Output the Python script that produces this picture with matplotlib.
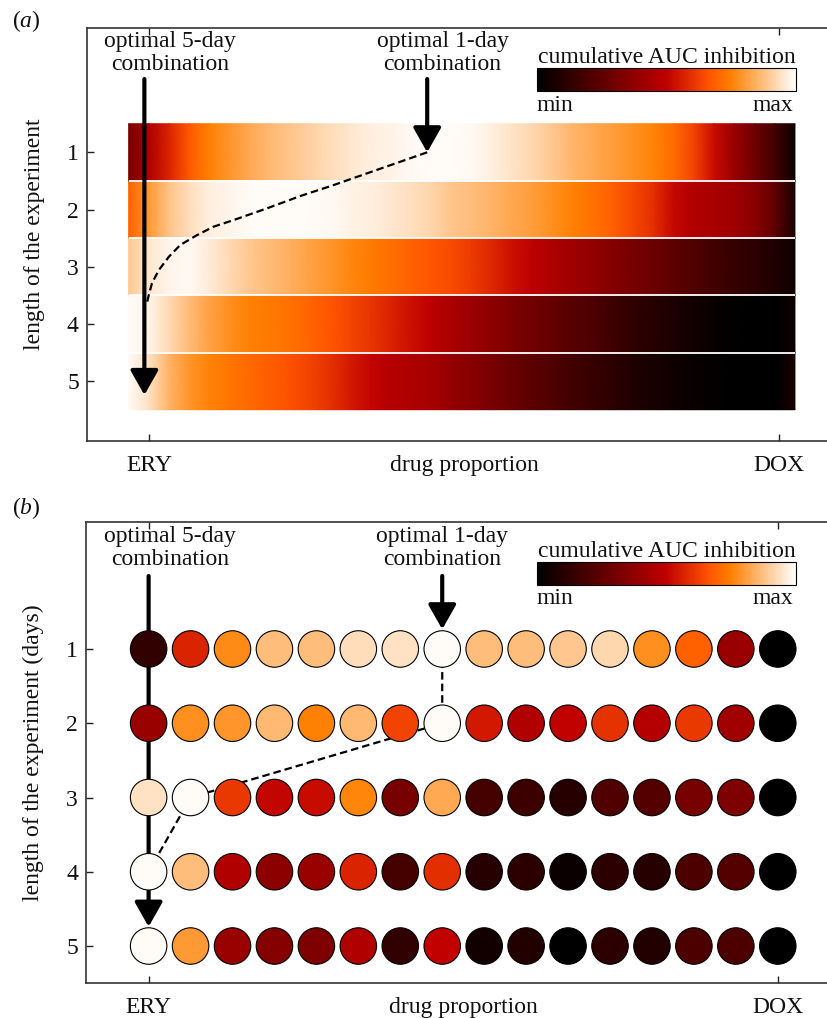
import numpy as np
import matplotlib
matplotlib.use('Agg')
import matplotlib.pyplot as plt
from matplotlib import cm
from matplotlib.colors import Normalize

plt.rcParams['font.family'] = ['Liberation Serif', 'DejaVu Serif']
plt.rcParams['mathtext.fontset'] = 'custom'
plt.rcParams['mathtext.rm'] = 'Liberation Serif'
plt.rcParams['mathtext.it'] = 'Liberation Serif:italic'
FS = 17
CMAP = 'gist_heat'

# ---------------- data ----------------
days = [1, 2, 3, 4, 5]
x_tick_pos = [0, 1]
x_tick_labels = ['ERY', 'DOX']

# panel (a): continuous inhibition profile along the drug-proportion axis
heat_pos = np.linspace(-0.033, 1.026, 34)
heat_day1 = [0.31, 0.45, 0.57, 0.67, 0.75, 0.79, 0.83, 0.86, 0.885, 0.91, 0.93, 0.95,
             0.965, 0.975, 0.985, 0.99, 0.99, 0.985, 0.965, 0.945, 0.92, 0.89, 0.855,
             0.83, 0.805, 0.785, 0.755, 0.71, 0.63, 0.52, 0.40, 0.29, 0.17, 0.04]
heat_day2 = [0.69, 0.80, 0.88, 0.93, 0.965, 0.98, 0.99, 0.99, 0.99, 0.99, 0.985, 0.975,
             0.965, 0.95, 0.935, 0.915, 0.885, 0.868, 0.85, 0.828, 0.805, 0.78, 0.752,
             0.72, 0.685, 0.64, 0.59, 0.515, 0.46, 0.44, 0.415, 0.36, 0.25, 0.07]
heat_day3 = [0.89, 0.95, 0.98, 0.985, 0.96, 0.925, 0.89, 0.865, 0.84, 0.815, 0.79, 0.765,
             0.74, 0.715, 0.69, 0.665, 0.645, 0.615, 0.575, 0.535, 0.49, 0.455, 0.415,
             0.38, 0.345, 0.31, 0.28, 0.245, 0.21, 0.175, 0.145, 0.115, 0.085, 0.035]
heat_day4 = [0.99, 0.98, 0.925, 0.865, 0.815, 0.78, 0.752, 0.735, 0.72, 0.695, 0.665, 0.635,
             0.605, 0.57, 0.53, 0.49, 0.445, 0.41, 0.37, 0.33, 0.295, 0.265, 0.23,
             0.20, 0.165, 0.13, 0.10, 0.075, 0.05, 0.025, 0.01, 0.0, 0.0, 0.04]
heat_day5 = [0.99, 0.94, 0.85, 0.79, 0.755, 0.73, 0.705, 0.68, 0.66, 0.63, 0.595, 0.55,
             0.51, 0.475, 0.455, 0.43, 0.39, 0.355, 0.315, 0.275, 0.24, 0.21, 0.175,
             0.145, 0.115, 0.085, 0.065, 0.045, 0.025, 0.01, 0.0, 0.0, 0.0, 0.07]
heat_rows = [heat_day1, heat_day2, heat_day3, heat_day4, heat_day5]

# optimal-combination path in panel (a)
path_a_p = [0.4415, 0.399, 0.346, 0.293, 0.240, 0.187, 0.134, 0.102, 0.076, 0.049,
            0.031, 0.015, 0.004, -0.001, -0.004]
path_a_day = [1.0, 1.164, 1.367, 1.572, 1.764, 1.979, 2.184, 2.30, 2.446, 2.62,
              2.825, 3.058, 3.29, 3.495, 3.64]

# panel (b): 16 discrete drug proportions
n_props = 16
dot_day1 = [0.13, 0.57, 0.77, 0.87, 0.87, 0.93, 0.94, 0.99, 0.87, 0.87, 0.89, 0.92, 0.78, 0.69, 0.40, 0.0]
dot_day2 = [0.40, 0.78, 0.79, 0.86, 0.75, 0.86, 0.63, 0.99, 0.55, 0.46, 0.50, 0.60, 0.47, 0.61, 0.42, 0.0]
dot_day3 = [0.94, 0.99, 0.61, 0.51, 0.52, 0.76, 0.31, 0.83, 0.18, 0.16, 0.10, 0.21, 0.22, 0.31, 0.33, 0.0]
dot_day4 = [0.99, 0.87, 0.46, 0.37, 0.40, 0.57, 0.18, 0.59, 0.10, 0.12, 0.03, 0.12, 0.10, 0.20, 0.22, 0.0]
dot_day5 = [0.99, 0.80, 0.40, 0.35, 0.33, 0.46, 0.13, 0.50, 0.05, 0.09, 0.0, 0.12, 0.09, 0.20, 0.20, 0.0]
dot_rows = [dot_day1, dot_day2, dot_day3, dot_day4, dot_day5]

opt_col = [7, 7, 1, 0]
opt_day = [1, 2, 3, 4]

# ---------------- figure ----------------
W, H = 828, 1018
fig = plt.figure(figsize=(W / 100, H / 100), dpi=100)
DASH = (0, (3.4, 1.8))


def fx(px):
    return px / W


def fy(py):
    return (H - py) / H


def style_axes(ax, ylabel):
    ax.set_xlim(-0.1, 1.1)
    ax.set_xticks(x_tick_pos)
    ax.set_xticklabels(x_tick_labels)
    ax.set_yticks(days)
    ax.tick_params(axis='x', direction='in', top=True, bottom=True, length=5,
                   width=1.0, pad=10, labelsize=FS, colors='#222222', labelcolor='#111111')
    ax.tick_params(axis='y', direction='in', left=True, right=False, length=5,
                   width=1.0, pad=5.5, labelsize=FS, colors='#222222', labelcolor='#111111')
    for s in ax.spines.values():
        s.set_linewidth(1.2)
        s.set_color('#333333')
    ax.spines['right'].set_visible(False)
    ax.set_ylabel(ylabel, fontsize=FS, color='#111111')
    ax.yaxis.set_label_coords(-0.055, 0.5)
    ax.annotate('drug proportion', xy=(0.5, 0), xycoords=('data', 'axes fraction'),
                xytext=(0, -10), textcoords='offset points', ha='center', va='top',
                fontsize=FS, color='#111111')


def arrow(ax, x, y0, y1, z=4):
    ax.annotate('', xy=(x, y1), xytext=(x, y0),
                arrowprops=dict(arrowstyle='-|>,head_length=15,head_width=8.5',
                                lw=3, color='k', shrinkA=0, shrinkB=0,
                                mutation_scale=1), zorder=z)


def colorbar(rect, title_py, min_py):
    cax = fig.add_axes(rect)
    cb = fig.colorbar(cm.ScalarMappable(norm=Normalize(0, 1), cmap=CMAP),
                      cax=cax, orientation='horizontal')
    cb.set_ticks([])
    cb.outline.set_linewidth(0.8)
    fig.text(fx(666.5), fy(title_py), 'cumulative AUC inhibition', fontsize=FS,
             ha='center', va='baseline', color='#111111')
    fig.text(fx(537), fy(min_py), 'min', fontsize=FS, ha='left', va='baseline', color='#111111')
    fig.text(fx(793), fy(min_py), 'max', fontsize=FS, ha='right', va='baseline', color='#111111')


# ----- panel (a) -----
axa = fig.add_axes([fx(86.5), fy(441), 755 / W, (441 - 28.3) / H])
axa.set_ylim(6.047, -1.168)
for d, vals in zip(days, heat_rows):
    X = np.vstack([heat_pos, heat_pos])
    Y = np.vstack([np.full(len(heat_pos), d - 0.5), np.full(len(heat_pos), d + 0.5)])
    C = np.vstack([vals, vals])
    axa.pcolormesh(X, Y, C, shading='gouraud', cmap=CMAP, vmin=0, vmax=1, zorder=1)
axa.hlines([1.5, 2.5, 3.5, 4.5], heat_pos[0], heat_pos[-1], colors='white', lw=1.3, zorder=2)
axa.plot(path_a_p, path_a_day, color='k', lw=1.6, ls=DASH, zorder=3)
arrow(axa, -0.008, -0.281, 5.243)
arrow(axa, 0.4415, -0.281, 1.0)
axa.text(0.0334, -0.841, 'optimal 5-day', ha='center', va='baseline', fontsize=FS, color='#111111')
axa.text(0.0334, -0.439, 'combination', ha='center', va='baseline', fontsize=FS, color='#111111')
axa.text(0.466, -0.841, 'optimal 1-day', ha='center', va='baseline', fontsize=FS, color='#111111')
axa.text(0.466, -0.439, 'combination', ha='center', va='baseline', fontsize=FS, color='#111111')
style_axes(axa, 'length of the experiment')
colorbar([fx(537), fy(91), 259 / W, 22.7 / H], 63, 110.6)
fig.text(fx(12), fy(27), r'$(\mathit{a})$', fontsize=FS, ha='left', va='baseline', color='#111111')

# ----- panel (b) -----
axb = fig.add_axes([fx(85.7), fy(983.3), 755 / W, (983.3 - 522) / H])
axb.set_ylim(5.502, -0.710)
props = np.arange(n_props) / (n_props - 1)
for d, vals in zip(days, dot_rows):
    axb.scatter(props, np.full(n_props, d), c=vals, cmap=CMAP, vmin=0, vmax=1,
                s=690, edgecolors='k', linewidths=0.8, zorder=3)
axb.plot(np.array(opt_col) / (n_props - 1), opt_day, color='k', lw=1.6,
         ls=DASH, zorder=2)
arrow(axb, 0.0, 0.017, 4.74, z=1)
arrow(axb, 7 / 15, 0.017, 0.735, z=4)
axb.text(0.0345, -0.434, 'optimal 5-day', ha='center', va='baseline', fontsize=FS, color='#111111')
axb.text(0.0345, -0.125, 'combination', ha='center', va='baseline', fontsize=FS, color='#111111')
axb.text(0.467, -0.434, 'optimal 1-day', ha='center', va='baseline', fontsize=FS, color='#111111')
axb.text(0.467, -0.125, 'combination', ha='center', va='baseline', fontsize=FS, color='#111111')
style_axes(axb, 'length of the experiment (days)')
colorbar([fx(536.7), fy(585), 259 / W, 23.3 / H], 556.7, 604.3)
fig.text(fx(12), fy(514), r'$(\mathit{b})$', fontsize=FS, ha='left', va='baseline', color='#111111')

fig.savefig('out.png', dpi=100)
